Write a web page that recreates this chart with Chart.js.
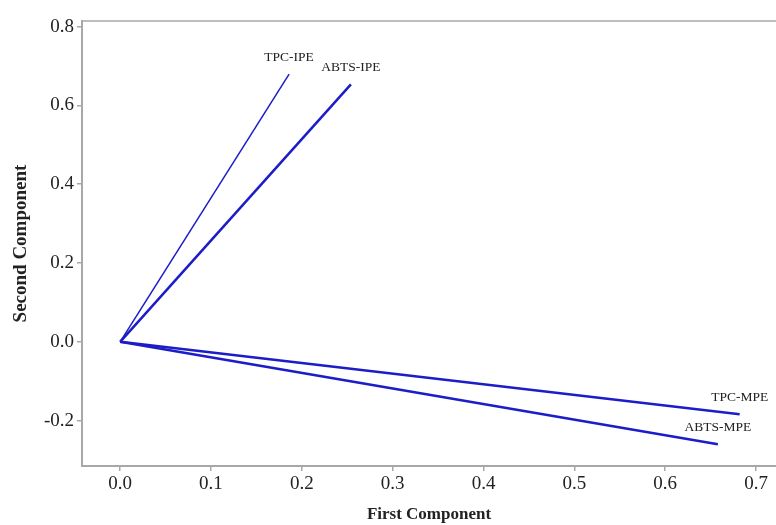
<!DOCTYPE html>
<html>
<head>
<meta charset="utf-8">
<script src="https://cdn.jsdelivr.net/npm/chart.js@4.4.1/dist/chart.umd.min.js"></script>
<style>
  html, body { margin: 0; padding: 0; background: #fff; }
  #wrap { width: 776px; height: 525px; }
</style>
</head>
<body>
<div id="wrap"><canvas id="loadingPlot"></canvas></div>
<script>
// loading vectors, all drawn from the origin
const variables = ["TPC-IPE", "ABTS-IPE", "TPC-MPE", "ABTS-MPE"];
const firstComponent = [0.186, 0.254, 0.682, 0.658];
const secondComponent = [0.679, 0.653, -0.184, -0.260];
const lineWidths = [1.5, 2.5, 2.5, 2.5];

const xTicks = [0.0, 0.1, 0.2, 0.3, 0.4, 0.5, 0.6, 0.7];
const yTicks = [-0.2, 0.0, 0.2, 0.4, 0.6, 0.8];

const lineBlue = "#1c1cc8";
const axisGray = "#a8a8a8";
const serif = "'Liberation Serif', 'Times New Roman', serif";

const datasets = variables.map((name, i) => ({
    label: name,
    data: [{ x: 0, y: 0 }, { x: firstComponent[i], y: secondComponent[i] }],
    showLine: true,
    borderColor: lineBlue,
    borderWidth: lineWidths[i],
    pointRadius: 0,
    fill: false
}));

// gray frame line along the top + text labels at the vector tips
const plotDecor = {
    id: "plotDecor",
    afterDraw(chart) {
        const ctx = chart.ctx;
        const area = chart.chartArea;
        ctx.save();
        ctx.strokeStyle = axisGray;
        ctx.lineWidth = 1.5;
        ctx.beginPath();
        ctx.moveTo(area.left, area.top);
        ctx.lineTo(chart.width, area.top);
        ctx.stroke();

        ctx.fillStyle = "#222";
        ctx.font = "13.5px " + serif;
        ctx.textAlign = "center";
        ctx.textBaseline = "middle";
        chart.data.datasets.forEach((ds, i) => {
            const pt = chart.getDatasetMeta(i).data[1];
            ctx.fillText(ds.label, pt.x, pt.y - 17);
        });
        ctx.restore();
    }
};

new Chart(document.getElementById("loadingPlot"), {
    type: "scatter",
    data: { datasets: datasets },
    options: {
        responsive: true,
        maintainAspectRatio: false,
        animation: false,
        layout: { padding: { top: 21, right: 0, left: 0, bottom: 0 } },
        plugins: { legend: { display: false }, tooltip: { enabled: false } },
        scales: {
            x: {
                type: "linear",
                min: -0.042,
                max: 0.722,
                afterBuildTicks: s => { s.ticks = xTicks.map(v => ({ value: v })); },
                afterFit: s => { s.height = 59; },
                ticks: {
                    color: "#222",
                    font: { family: serif, size: 19 },
                    padding: 2,
                    callback: v => v.toFixed(1)
                },
                grid: { drawOnChartArea: false, drawTicks: true, tickLength: 5, color: axisGray, lineWidth: 1.5 },
                border: { color: axisGray, width: 2 },
                title: {
                    display: true,
                    text: "First Component",
                    color: "#222",
                    font: { family: serif, size: 17, weight: "bold" },
                    padding: { top: 6, bottom: 0 }
                }
            },
            y: {
                type: "linear",
                min: -0.315,
                max: 0.814,
                afterBuildTicks: s => { s.ticks = yTicks.map(v => ({ value: v })); },
                afterFit: s => { s.width = 82; },
                ticks: {
                    color: "#222",
                    font: { family: serif, size: 19 },
                    padding: 3,
                    callback: v => v.toFixed(1)
                },
                grid: { drawOnChartArea: false, drawTicks: true, tickLength: 5, color: axisGray, lineWidth: 1.5 },
                border: { color: axisGray, width: 2 },
                title: {
                    display: true,
                    text: "Second Component",
                    color: "#222",
                    font: { family: serif, size: 19, weight: "bold" },
                    padding: { top: 10, bottom: 0 }
                }
            }
        }
    },
    plugins: [plotDecor]
});
</script>
</body>
</html>
